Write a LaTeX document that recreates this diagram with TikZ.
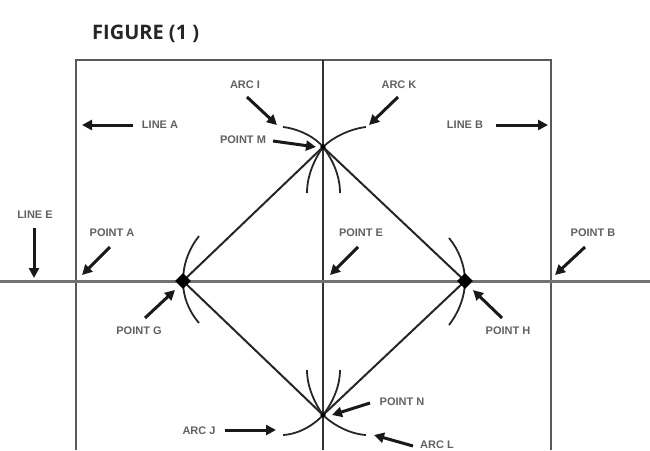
\documentclass[tikz,border=0pt]{standalone}
\usepackage{fontspec}
\setmainfont{Liberation Sans}
\newfontfamily\titlefont{Open Sans}
\usetikzlibrary{arrows.meta,shapes.geometric}
\tikzset{
  x=1pt,y=-1pt,
  lbl/.style={font=\fontsize{11}{13}\selectfont\bfseries,text=black!62,inner sep=0pt},
  grayline/.style={draw=black!55,line width=3pt},
  frame/.style={draw=black!80,line width=1.8pt},
  dia/.style={draw=black!85,line width=2pt},
  arcline/.style={draw=black!85,line width=1.8pt},
  pointer/.style={draw=black!90,line width=3pt,-{Triangle[length=10pt,width=10pt]}},
  dot/.style={fill=black,draw=none,shape=diamond,minimum size=0pt,inner sep=0pt},
}
\begin{document}
\begin{tikzpicture}
\useasboundingbox (0,0) rectangle (650,450);
% frame
\coordinate (fbl) at (76,450); \coordinate (ftl) at (76,60);
\coordinate (ftr) at (551,60); \coordinate (fbr) at (551,450);
\coordinate (ct) at (323,60); \coordinate (cb) at (323,450);
\coordinate (el) at (0,281); \coordinate (er) at (650,281);
\coordinate (M) at (323,147); \coordinate (N) at (323,415);
\coordinate (G) at (183,281); \coordinate (H) at (465,281);
\draw[frame,draw=black!65] (fbl) -- (ftl) -- (ftr) -- (fbr);
\draw[frame] (ct) -- (cb);
\draw[grayline] (el) -- (er);
\draw[dia] (M) -- (H) -- (N) -- (G) -- cycle;
% arcs
\coordinate (a1) at (283,127); \coordinate (a2) at (366,127);
\coordinate (a3) at (307,193); \coordinate (a4) at (340,193);
\coordinate (a5) at (283,435); \coordinate (a6) at (366,435);
\coordinate (a7) at (307,370); \coordinate (a8) at (340,370);
\coordinate (a9) at (199,236); \coordinate (a10) at (199,323);
\coordinate (a11) at (449,238); \coordinate (a12) at (449,325);
\draw[arcline] (a1) .. controls (300,129) and (316,138) .. (M);
\draw[arcline] (a2) .. controls (349,129) and (332,138) .. (M);
\draw[arcline] (a3) .. controls (307,176) and (314,160) .. (M);
\draw[arcline] (a4) .. controls (340,176) and (333,160) .. (M);
\draw[arcline] (a5) .. controls (300,434) and (315,424) .. (N);
\draw[arcline] (a6) .. controls (349,434) and (332,424) .. (N);
\draw[arcline] (a7) .. controls (307,386) and (314,402) .. (N);
\draw[arcline] (a8) .. controls (340,386) and (333,402) .. (N);
\draw[arcline] (a9) .. controls (188,250) and (183,266) .. (G);
\draw[arcline] (a10) .. controls (188,310) and (183,296) .. (G);
\draw[arcline] (a11) .. controls (459,250) and (465,266) .. (H);
\draw[arcline] (a12) .. controls (459,312) and (465,296) .. (H);
% dots
\node[dot,minimum size=16pt] (dG) at (G) {};
\node[dot,minimum size=16pt] (dH) at (H) {};
\node[dot,minimum size=6pt] (dM) at (M) {};
\node[dot,minimum size=6pt] (dN) at (N) {};
% title
\node[inner sep=0pt,anchor=west,text=black!85] (title) at (92,34) {\titlefont\bfseries\fontsize{20}{22}\selectfont\scalebox{1.0}[1]{FIGURE (1 )}};
% labels
\node[lbl] (lA) at (160,125) {LINE A};
\node[lbl] (lB) at (465,125) {LINE B};
\node[lbl] (lE) at (35,215) {LINE E};
\node[lbl] (pA) at (112,233) {POINT A};
\node[lbl] (pB) at (593,233) {POINT B};
\node[lbl] (pE) at (361,233) {POINT E};
\node[lbl] (pG) at (139,331) {POINT G};
\node[lbl] (pH) at (508,331) {POINT H};
\node[lbl] (pM) at (243,140) {POINT M};
\node[lbl] (pN) at (402,402) {POINT N};
\node[lbl] (aI) at (245,85) {ARC I};
\node[lbl] (aK) at (399,85) {ARC K};
\node[lbl] (aJ) at (199,431) {ARC J};
\node[lbl] (aL) at (437,445) {ARC L};
% pointer tips
\coordinate (tA) at (82,125); \coordinate (tB) at (548,125);
\coordinate (tE) at (34,278); \coordinate (tPA) at (82,275);
\coordinate (tPB) at (555,275); \coordinate (tPE) at (330,275);
\coordinate (tG) at (175,290); \coordinate (tH) at (473,290);
\coordinate (tM) at (316,147); \coordinate (tN) at (332,415);
\coordinate (tI) at (277,125); \coordinate (tK) at (369,125);
\coordinate (tJ) at (276,430); \coordinate (tL) at (374,435);
\coordinate (sA) at (133,125); \coordinate (sB) at (496,125);
\coordinate (sE) at (34,228); \coordinate (sPA) at (110,247);
\coordinate (sPB) at (585,247); \coordinate (sPE) at (358,247);
\coordinate (sG) at (145,318); \coordinate (sH) at (502,318);
\coordinate (sM) at (273,141); \coordinate (sN) at (370,403);
\coordinate (sI) at (247,97); \coordinate (sK) at (398,97);
\coordinate (sJ) at (225,430); \coordinate (sL) at (413,446);
\draw[pointer] (sA) -- (tA);
\draw[pointer] (sB) -- (tB);
\draw[pointer] (sE) -- (tE);
\draw[pointer] (sPA) -- (tPA);
\draw[pointer] (sPB) -- (tPB);
\draw[pointer] (sPE) -- (tPE);
\draw[pointer] (sG) -- (tG);
\draw[pointer] (sH) -- (tH);
\draw[pointer] (sM) -- (tM);
\draw[pointer] (sN) -- (tN);
\draw[pointer] (sI) -- (tI);
\draw[pointer] (sK) -- (tK);
\draw[pointer] (sJ) -- (tJ);
\draw[pointer] (sL) -- (tL);
\end{tikzpicture}
\end{document}
